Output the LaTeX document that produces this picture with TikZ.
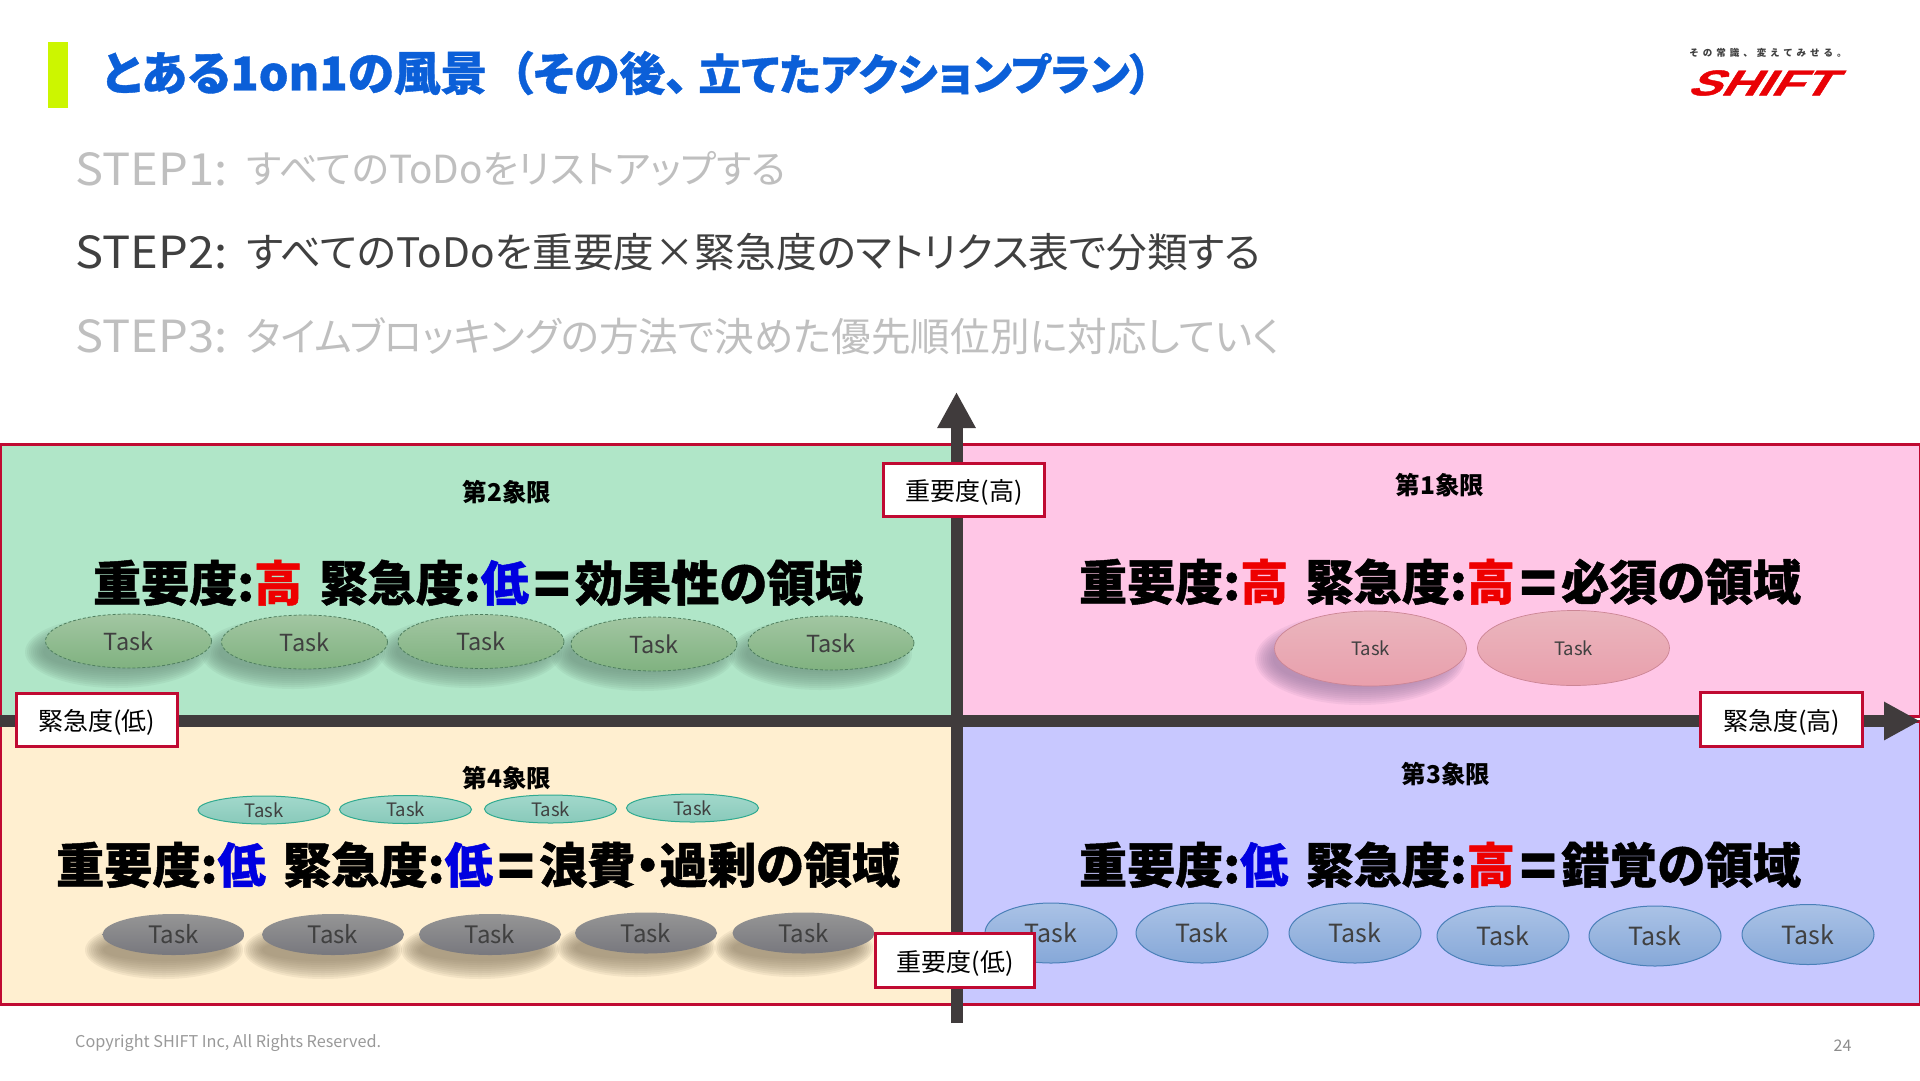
\documentclass[tikz,border=0pt]{standalone}
\usepackage{fontspec}
\usepackage{graphicx}
\usetikzlibrary{shapes.geometric,arrows.meta}
\setmainfont{Noto Sans CJK JP}[RawFeature={+palt}]
\newfontfamily\plainjp{Noto Sans CJK JP}
\newfontfamily\logofont{Liberation Sans}
\definecolor{framered}{HTML}{C00A32}
\definecolor{axisgray}{HTML}{403B3C}
\definecolor{titleblue}{HTML}{0B5FD8}
\definecolor{barlime}{HTML}{CCF600}
\definecolor{stepgray}{HTML}{BFBFBF}
\definecolor{stepdark}{HTML}{404040}
\definecolor{hi}{HTML}{EE0000}
\definecolor{lo}{HTML}{0000E0}
\definecolor{qgreen}{HTML}{B0E6C8}
\definecolor{qpink}{HTML}{FFC6E6}
\definecolor{qcream}{HTML}{FFEFD0}
\definecolor{qpurple}{HTML}{C8C8FF}
\newcommand{\HI}{{\color{hi}高}}
\newcommand{\LO}{{\color{lo}低}}
\newcommand{\EQ}{\hspace{.1em}\raisebox{-.11em}{\scalebox{1.25}{=}}\hspace{.1em}}
\newcommand{\GAP}{\hspace{.36em}}
\newcommand{\fitw}[2]{\resizebox{#1pt}{!}{#2}}
\newcommand{\softshadow}[5]{%
  \foreach \k in {0,...,9}{%
    \fill[#5,opacity=.115] (#1,#2) ellipse ({(#3+9-2*\k)*1pt} and {(#4+9-2*\k)*1pt});
  }}
\tikzset{
  x=1pt,y=-1pt,
  quad/.style={draw=framered,line width=3pt},
  axisline/.style={draw=axisgray,line width=12pt,-{Triangle[length=36pt,width=36pt]}},
  tagbox/.style={draw=framered,line width=3pt,fill=white,inner sep=0pt,text=black,text height=23pt,text depth=1.3pt,font=\fontsize{25}{25}\selectfont},
  qlabel/.style={inner sep=0pt,text=black,font=\fontsize{24.5}{24.5}\selectfont\bfseries},
  bigtext/.style={inner sep=0pt,text=black,font=\fontsize{48}{48}\selectfont\bfseries\addfontfeature{FakeBold=1}},
  steptext/.style={inner sep=0pt,anchor=west,font=\fontsize{46}{46}\selectfont},
  taskbase/.style={ellipse,inner sep=0pt,text=stepdark,shading=axis,shading angle=0},
  tgreen/.style={taskbase,minimum width=166pt,minimum height=54pt,top color=HTMLa,bottom color=HTMLb,draw=greenedge,densely dashed,line width=.8pt,font=\fontsize{23.5}{23.5}\selectfont},
  tpink/.style={taskbase,minimum width=192pt,minimum height=75pt,top color=HTMLc,bottom color=HTMLd,draw=HTMLe,line width=.7pt,font=\fontsize{18.5}{18.5}\selectfont},
  tteal/.style={taskbase,minimum width=132pt,minimum height=28pt,top color=HTMLf,bottom color=HTMLg,draw=HTMLh,line width=1pt,font=\fontsize{18.5}{18.5}\selectfont},
  tdark/.style={taskbase,minimum width=142pt,minimum height=41pt,top color=HTMLi,bottom color=HTMLj,draw=none,font=\fontsize{24}{24}\selectfont},
  tblue/.style={taskbase,minimum width=132pt,minimum height=60pt,top color=HTMLk,bottom color=HTMLl,draw=HTMLm,line width=1pt,font=\fontsize{25}{25}\selectfont},
}
\definecolor{HTMLa}{HTML}{A2C6A2}
\definecolor{HTMLb}{HTML}{80B280}
\definecolor{greenedge}{HTML}{4F7F5F}
\definecolor{HTMLc}{HTML}{EAB6BE}
\definecolor{HTMLd}{HTML}{E99FAC}
\definecolor{HTMLe}{HTML}{CC8595}
\definecolor{HTMLf}{HTML}{A2D8CB}
\definecolor{HTMLg}{HTML}{88C9BA}
\definecolor{HTMLh}{HTML}{30AA90}
\definecolor{HTMLi}{HTML}{959595}
\definecolor{HTMLj}{HTML}{78787E}
\definecolor{HTMLk}{HTML}{AAC2E6}
\definecolor{HTMLl}{HTML}{86A8D8}
\definecolor{HTMLm}{HTML}{4A80B8}
\definecolor{shgreen}{HTML}{6E9480}
\definecolor{shpink}{HTML}{9F7FA5}
\definecolor{shdark}{HTML}{90826A}
\begin{document}
\begin{tikzpicture}
\useasboundingbox (0,0) rectangle (1920,1080);
\fill[white] (0,0) rectangle (1920,1080);
% header
\fill[barlime] (48,42) rectangle (68,108);
\node[inner sep=0pt,anchor=west,text=titleblue,font=\fontsize{46}{46}\selectfont\bfseries\addfontfeature{FakeBold=.8}] (title) at (102,73) {\fitw{385}{とある1on1の風景}\hspace{23pt}\fitw{178}{（その後、}\hspace{10pt}\fitw{453}{立てたアクションプラン）}};
\node[steptext,text=stepgray] (step1a) at (75,169.5) {\resizebox{152pt}{33pt}{STEP1:}};
\node[steptext,text=stepgray] (step1) at (246,169) {\fitw{540}{すべてのToDoをリストアップする}};
\node[steptext,text=stepdark] (step2a) at (75,252.5) {\resizebox{152pt}{33pt}{STEP2:}};
\node[steptext,text=stepdark] (step2) at (246,252) {\fitw{1015}{すべてのToDoを重要度×緊急度のマトリクス表で分類する}};
\node[steptext,text=stepgray] (step3a) at (75,336) {\resizebox{152pt}{33pt}{STEP3:}};
\node[steptext,text=stepgray] (step3) at (246,336) {\fitw{1034}{タイムブロッキングの方法で決めた優先順位別に対応していく}};
% logo
\node[inner sep=0pt,text=stepdark,font=\plainjp\fontsize{9.5}{9.5}\selectfont\bfseries] (tagline) at (1768,53) {\addfontfeature{LetterSpace=42}その常識、変えてみせる。};
\node[inner sep=0pt,text=hi!90!framered,font=\logofont\bfseries] (logo) at (1758.8,83) {\resizebox{145pt}{25pt}{\addfontfeature{FakeSlant=0.45,FakeBold=1}SHIFT}};
% quadrants
\draw[quad,fill=qgreen] (0,444) rectangle (956,721);
\draw[quad,fill=qpink] (956,444) rectangle (1920,716);
\draw[quad,fill=qcream] (0,721) rectangle (956,1004);
\draw[quad,fill=qpurple] (956,721) rectangle (1920,1004);
% quadrant labels
\node[qlabel] (q2) at (507,492) {第2象限};
\node[qlabel] (q1) at (1440,485) {第1象限};
\node[qlabel] (q4) at (507,778) {第4象限};
\node[qlabel] (q3) at (1446,774) {第3象限};
\node[bigtext] (t2) at (478,583) {\fitw{770}{重要度:\HI{}\GAP 緊急度:\LO{}\EQ 効果性の領域}};
\node[bigtext] (t1) at (1440,582) {\fitw{722}{重要度:\HI{}\GAP 緊急度:\HI{}\EQ 必須の領域}};
\node[bigtext] (t4) at (478,865) {\fitw{844}{重要度:\LO{}\GAP 緊急度:\LO{}\EQ 浪費・過剰の領域}};
\node[bigtext] (t3) at (1440,865) {\fitw{722}{重要度:\LO{}\GAP 緊急度:\HI{}\EQ 錯覚の領域}};
% shadows
\softshadow{117}{652}{83}{27}{shgreen}
\softshadow{293}{653}{83}{27}{shgreen}
\softshadow{470}{652}{83}{27}{shgreen}
\softshadow{643}{655}{83}{27}{shgreen}
\softshadow{820}{654}{83}{27}{shgreen}
\softshadow{1360}{659}{96}{37}{shpink}
\softshadow{164}{950}{70}{20}{shdark}
\softshadow{323}{950}{70}{20}{shdark}
\softshadow{480}{950}{70}{20}{shdark}
\softshadow{636}{948}{70}{20}{shdark}
\softshadow{794}{948}{70}{20}{shdark}
% tasks
\node[tgreen] (g1) at (128.5,641) {Task};
\node[tgreen] (g2) at (304.5,642) {Task};
\node[tgreen] (g3) at (481,641.5) {Task};
\node[tgreen] (g4) at (654,644) {Task};
\node[tgreen] (g5) at (831,643) {Task};
\node[tpink] (p1) at (1370.5,648.5) {Task};
\node[tpink] (p2) at (1573.5,648) {Task};
\node[tteal] (c1) at (264,810) {Task};
\node[tteal] (c2) at (405.5,809.5) {Task};
\node[tteal] (c3) at (550.5,809) {Task};
\node[tteal] (c4) at (692.5,808) {Task};
\node[tdark] (d1) at (173.5,934.5) {Task};
\node[tdark] (d2) at (333,934.5) {Task};
\node[tdark] (d3) at (490,934.5) {Task};
\node[tdark] (d4) at (646,933) {Task};
\node[tdark] (d5) at (803.5,933) {Task};
\node[tblue] (b1) at (1051,933) {Task};
\node[tblue] (b2) at (1202,933) {Task};
\node[tblue] (b3) at (1355,933) {Task};
\node[tblue] (b4) at (1503,936) {Task};
\node[tblue] (b5) at (1655,936) {Task};
\node[tblue] (b6) at (1808,934.5) {Task};
% axes
\coordinate (xs) at (0,721);
\coordinate (xe) at (1920,721);
\coordinate (ys) at (956.5,1023);
\coordinate (ye) at (956.5,392);
\draw[axisline] (ys) -- (ye);
\draw[axisline] (xs) -- (xe);
% axis tags
\node[tagbox,minimum width=161pt,minimum height=53pt] (imphi) at (964,490) {重要度(高)};
\node[tagbox,minimum width=159pt,minimum height=54pt] (implo) at (955,960.5) {重要度(低)};
\node[tagbox,minimum width=161pt,minimum height=53pt] (urglo) at (97,720) {緊急度(低)};
\node[tagbox,minimum width=162pt,minimum height=54pt] (urghi) at (1781.5,719.5) {緊急度(高)};
% footer
\node[inner sep=0pt,anchor=west,text=black!40,font=\fontsize{16}{16}\selectfont] (copy) at (75,1043) {\fitw{306}{Copyright SHIFT Inc, All Rights Reserved.}};
\node[inner sep=0pt,text=black!45,font=\fontsize{16}{16}\selectfont] (page) at (1842.5,1046) {24};
\end{tikzpicture}
\end{document}
